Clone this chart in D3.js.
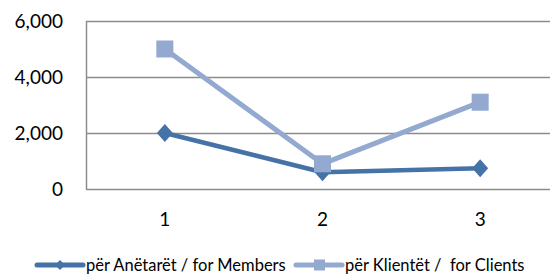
<!DOCTYPE html>
<html>
<head>
<meta charset="utf-8">
<script src="https://cdn.jsdelivr.net/npm/d3@7"></script>
<style>
  body { margin: 0; background: #fff; }
  text { font-family: Lato, "Open Sans", sans-serif; fill: #000; }
</style>
</head>
<body>
<div id="chart"></div>
<script>
const categories = ['1', '2', '3'];
const members = [2000, 600, 740];
const clients = [5000, 900, 3100];
const yTicks = [0, 2000, 4000, 6000];
const seriesNames = ['për Anëtarët / for Members', 'për Klientët /  for Clients'];

const width = 550;
const height = 274;
const margin = { top: 21, right: -9, bottom: 85, left: 86 };

const svg = d3.select('#chart')
  .append('svg')
  .attr('width', width)
  .attr('height', height);

const x = d3.scaleBand()
  .domain(categories)
  .range([margin.left, width - margin.right]);

const y = d3.scaleLinear()
  .domain([0, 6000])
  .range([height - margin.bottom, margin.top]);

// gridlines
svg.append('g')
  .selectAll('line')
  .data(yTicks)
  .enter().append('line')
  .attr('x1', margin.left)
  .attr('x2', width - margin.right)
  .attr('y1', d => Math.round(y(d)) + 0.5)
  .attr('y2', d => Math.round(y(d)) + 0.5)
  .attr('stroke', '#8c8c8c')
  .attr('stroke-width', 1.5);

// left axis line
svg.append('line')
  .attr('x1', margin.left + 0.5)
  .attr('x2', margin.left + 0.5)
  .attr('y1', y(6000))
  .attr('y2', y(0))
  .attr('stroke', '#8c8c8c')
  .attr('stroke-width', 1.5);

// y labels
svg.append('g')
  .selectAll('text')
  .data(yTicks)
  .enter().append('text')
  .attr('x', 63)
  .attr('y', d => y(d))
  .attr('dy', '0.35em')
  .attr('text-anchor', 'end')
  .style('font-size', '19px')
  .text(d => d3.format(',')(d));

// x labels
svg.append('g')
  .selectAll('text')
  .data(categories)
  .enter().append('text')
  .attr('x', d => x(d) + x.bandwidth() / 2)
  .attr('y', 219)
  .attr('dy', '0.35em')
  .attr('text-anchor', 'middle')
  .style('font-size', '19px')
  .text(d => d);

const series = [
  { name: seriesNames[0], values: members, color: '#4572a7', width: 4.5, marker: 'diamond' },
  { name: seriesNames[1], values: clients, color: '#93a9d0', width: 5, marker: 'square' }
];

const line = d3.line()
  .x((d, i) => x(categories[i]) + x.bandwidth() / 2)
  .y(d => y(d));

function drawMarker(g, type, cx, cy, color) {
  if (type === 'diamond') {
    g.append('path')
      .attr('d', `M${cx},${cy - 9}L${cx + 8},${cy}L${cx},${cy + 9}L${cx - 8},${cy}Z`)
      .attr('fill', color);
  } else {
    g.append('rect')
      .attr('x', cx - 8.5)
      .attr('y', cy - 8.5)
      .attr('width', 17)
      .attr('height', 17)
      .attr('fill', color);
  }
}

series.forEach(s => {
  const g = svg.append('g');
  g.append('path')
    .datum(s.values)
    .attr('d', line)
    .attr('fill', 'none')
    .attr('stroke', s.color)
    .attr('stroke-width', s.width)
    .attr('stroke-linejoin', 'round');
  s.values.forEach((v, i) => {
    drawMarker(g, s.marker, x(categories[i]) + x.bandwidth() / 2, y(v), s.color);
  });
});

// legend
const legendX = [37, 296];
series.forEach((s, i) => {
  const g = svg.append('g').attr('transform', `translate(${legendX[i]}, 265)`);
  g.append('line')
    .attr('x1', 0).attr('x2', 46)
    .attr('stroke', s.color)
    .attr('stroke-width', 5)
    .attr('stroke-linecap', 'round');
  if (s.marker === 'diamond') {
    g.append('path').attr('d', 'M23,-5L28,0L23,5L18,0Z').attr('fill', s.color);
  } else {
    g.append('rect').attr('x', 18).attr('y', -5.5).attr('width', 11).attr('height', 11).attr('fill', s.color);
  }
  g.append('text')
    .attr('x', 49)
    .attr('dy', '0.35em')
    .style('font-size', '16.5px')
    .style('white-space', 'pre')
    .text(s.name);
});
</script>
</body>
</html>
